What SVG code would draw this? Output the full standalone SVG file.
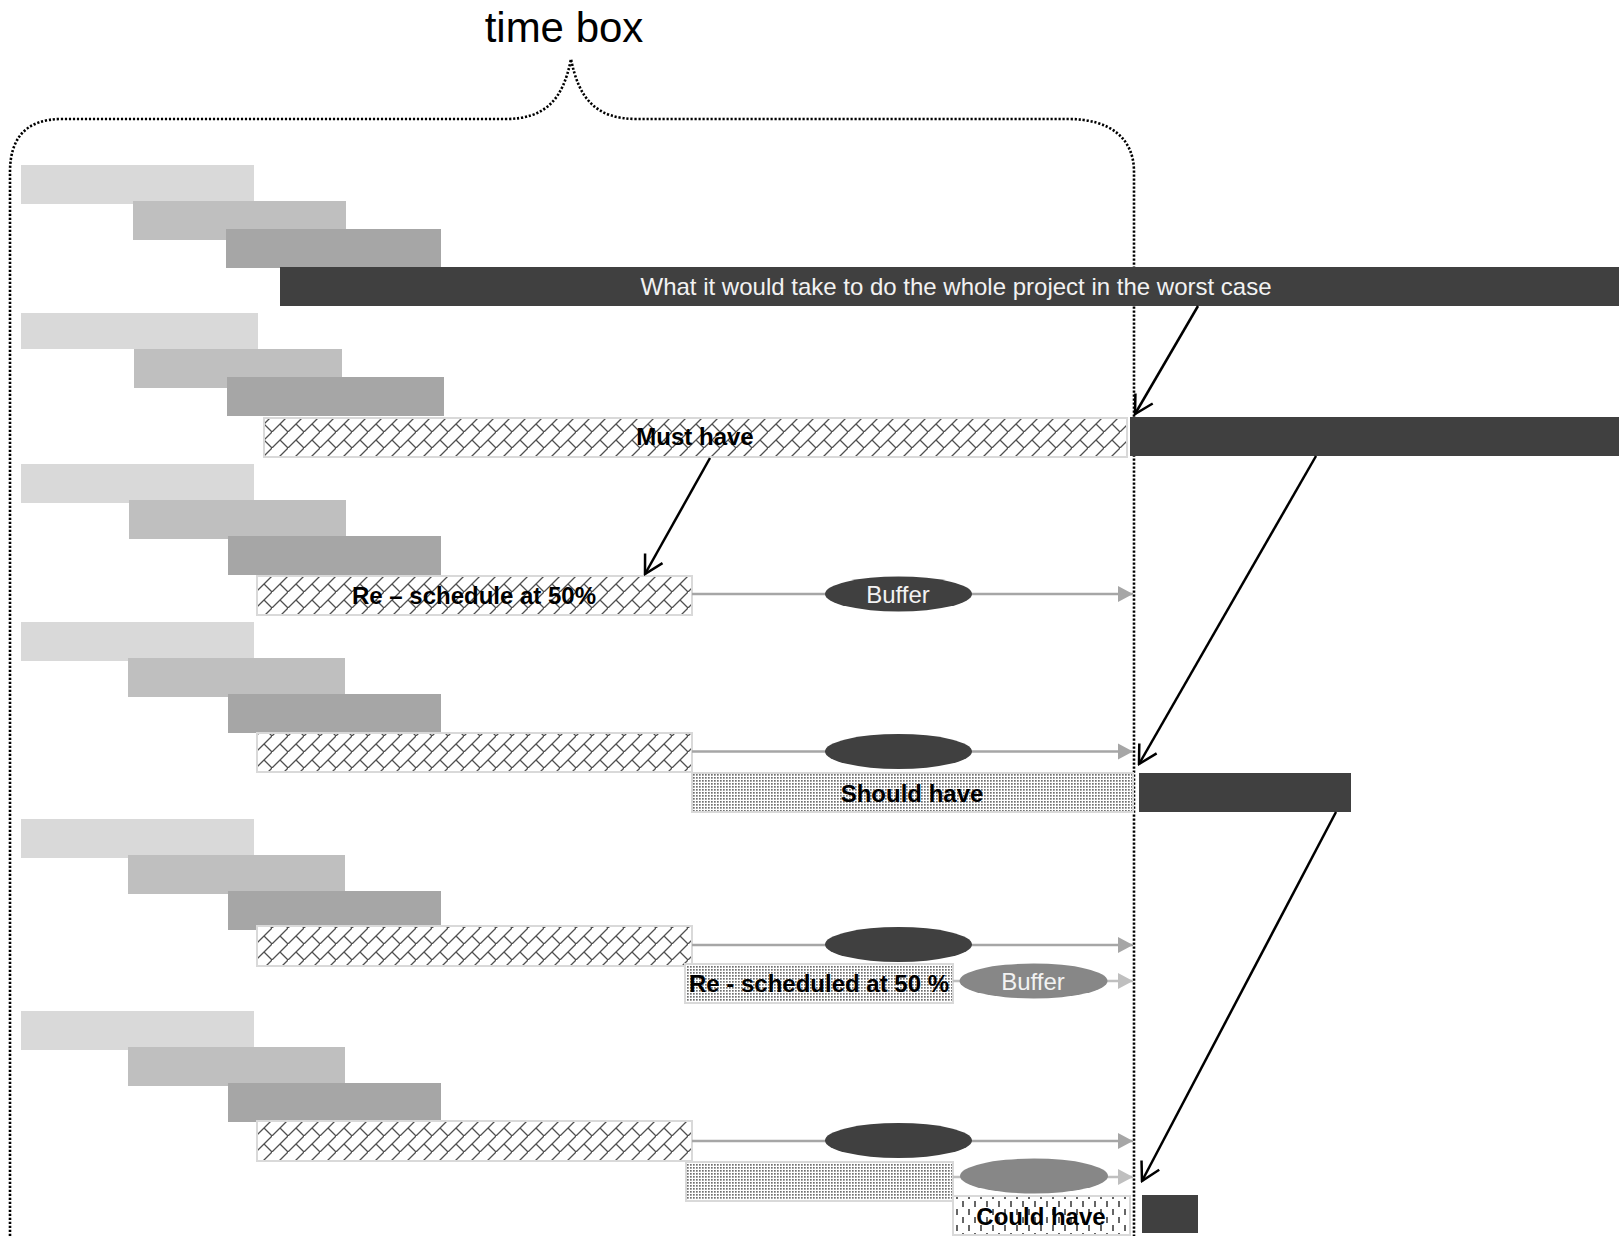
<svg xmlns="http://www.w3.org/2000/svg" width="1619" height="1236" viewBox="0 0 1619 1236">
  <style>
    .a { fill: #d9d9d9; }
    .b { fill: #bfbfbf; }
    .c { fill: #a6a6a6; }
    .dark { fill: #404040; }
    .brick { fill: url(#brick); stroke: #d9d9d9; stroke-width: 2; }
    .dots { fill: url(#dots); stroke: #d9d9d9; stroke-width: 2; }
    .dash { fill: url(#vdash); stroke: #d9d9d9; stroke-width: 2; }
    .lbl { font-family: "Liberation Sans", Arial, sans-serif; font-size: 24px; font-weight: bold; fill: #000; text-anchor: middle; }
    .wt { font-family: "Liberation Sans", Arial, sans-serif; font-size: 24px; fill: #f2f2f2; text-anchor: middle; }
    .ell { fill: #404040; }
    .ell2 { fill: #878787; }
    .flow { stroke: #a6a6a6; stroke-width: 2.5; fill: none; marker-end: url(#tri); }
    .flow2 { stroke: #bfbfbf; stroke-width: 2.5; fill: none; marker-end: url(#tri2); }
    .move { stroke: #000; stroke-width: 2.5; fill: none; marker-end: url(#vee); }
    .brace { fill: none; stroke: #000; stroke-width: 2.6; stroke-dasharray: 2.2 1.8; }
  </style>
  <defs>
    <pattern id="brick" width="16" height="16" patternUnits="userSpaceOnUse">
      <rect width="16" height="16" fill="#fff"/>
      <path d="M0,16 L16,0 M8,8 L16,16" stroke="#505050" stroke-width="1.3" fill="none"/>
    </pattern>
    <pattern id="dots" width="3" height="3" patternUnits="userSpaceOnUse">
      <rect width="3" height="3" fill="#fff"/>
      <rect width="1.7" height="1.7" fill="#707070"/>
    </pattern>
    <pattern id="vdash" width="12" height="16" patternUnits="userSpaceOnUse">
      <rect width="12" height="16" fill="#fff"/>
      <path d="M3,1 V7 M9,9 V15" stroke="#404040" stroke-width="1.6"/>
    </pattern>
    <marker id="tri" viewBox="-16 -9 17 18" refX="0" refY="0" markerWidth="17" markerHeight="18" markerUnits="userSpaceOnUse" orient="auto">
      <path d="M0,0 L-15,-8 L-15,8 z" fill="#a6a6a6"/>
    </marker>
    <marker id="tri2" viewBox="-16 -9 17 18" refX="0" refY="0" markerWidth="17" markerHeight="18" markerUnits="userSpaceOnUse" orient="auto">
      <path d="M0,0 L-15,-8 L-15,8 z" fill="#bfbfbf"/>
    </marker>
    <marker id="vee" viewBox="-22 -13 24 26" refX="0" refY="0" markerWidth="24" markerHeight="26" markerUnits="userSpaceOnUse" orient="auto">
      <path d="M-18,-10 L0,0 L-18,10" fill="none" stroke="#000" stroke-width="2.5"/>
    </marker>
  </defs>

  <rect width="1619" height="1236" fill="#fff"/>

  <!-- time box brace -->
  <g id="timebox">
    <path class="brace" d="M10,1236 L10,172 C10,138 26,119 62,119 L505,119 C545,119 563,100 571,59 C579,100 597,119 637,119 L1068,119 C1110,119 1134,138 1134,172 L1134,1236"/>
    <text x="564" y="42" font-family="'Liberation Sans', Arial, sans-serif" font-size="42" text-anchor="middle" fill="#000">time box</text>
  </g>

  <!-- row 1: worst case -->
  <g id="row1">
    <rect class="a" x="21" y="165" width="233" height="39"/>
    <rect class="b" x="133" y="201" width="213" height="39"/>
    <rect class="c" x="226" y="229" width="215" height="39"/>
    <rect class="dark" x="280" y="267" width="1339" height="39"/>
    <text class="wt" x="956" y="295">What it would take to do the whole project in the worst case</text>
  </g>

  <!-- row 2: must have -->
  <g id="row2">
    <rect class="a" x="21" y="313" width="237" height="36"/>
    <rect class="b" x="134" y="349" width="208" height="39"/>
    <rect class="c" x="227" y="377" width="217" height="39"/>
    <rect class="brick" x="264" y="418" width="863" height="39"/>
    <text class="lbl" x="695" y="445">Must have</text>
    <rect class="dark" x="1130" y="417" width="489" height="39"/>
  </g>

  <!-- row 3: rescheduled with buffer -->
  <g id="row3">
    <rect class="a" x="21" y="464" width="233" height="39"/>
    <rect class="b" x="129" y="500" width="217" height="39"/>
    <rect class="c" x="228" y="536" width="213" height="39"/>
    <rect class="brick" x="257" y="576" width="435" height="39"/>
    <text class="lbl" x="474" y="604">Re – schedule at 50%</text>
    <path class="flow" d="M692,594 H1133"/>
    <ellipse class="ell" cx="898.5" cy="594" rx="73.5" ry="17.5"/>
    <text class="wt" x="898" y="603">Buffer</text>
  </g>

  <!-- row 4: should have -->
  <g id="row4">
    <rect class="a" x="21" y="622" width="233" height="39"/>
    <rect class="b" x="128" y="658" width="217" height="39"/>
    <rect class="c" x="228" y="694" width="213" height="39"/>
    <rect class="brick" x="257" y="733" width="435" height="39"/>
    <path class="flow" d="M692,751.5 H1133"/>
    <ellipse class="ell" cx="898.5" cy="751.5" rx="73.5" ry="17.5"/>
    <rect class="dots" x="692" y="773" width="441" height="39"/>
    <text class="lbl" x="912" y="802">Should have</text>
    <rect class="dark" x="1139" y="773" width="212" height="39"/>
  </g>

  <!-- row 5: should have rescheduled -->
  <g id="row5">
    <rect class="a" x="21" y="819" width="233" height="39"/>
    <rect class="b" x="128" y="855" width="217" height="39"/>
    <rect class="c" x="228" y="891" width="213" height="39"/>
    <rect class="brick" x="257" y="926" width="435" height="40"/>
    <path class="flow" d="M692,945 H1133"/>
    <ellipse class="ell" cx="898.5" cy="944.5" rx="73.5" ry="17.5"/>
    <rect class="dots" x="685" y="964" width="268" height="39"/>
    <text class="lbl" x="819" y="992">Re - scheduled at 50 %</text>
    <path class="flow2" d="M953,981 H1133"/>
    <ellipse class="ell2" cx="1033.5" cy="981" rx="74" ry="17.5"/>
    <text class="wt" x="1033" y="990">Buffer</text>
  </g>

  <!-- row 6: could have -->
  <g id="row6">
    <rect class="a" x="21" y="1011" width="233" height="39"/>
    <rect class="b" x="128" y="1047" width="217" height="39"/>
    <rect class="c" x="228" y="1083" width="213" height="39"/>
    <rect class="brick" x="257" y="1121" width="435" height="40"/>
    <path class="flow" d="M692,1141 H1133"/>
    <ellipse class="ell" cx="898.5" cy="1140.5" rx="73.5" ry="17.5"/>
    <rect class="dots" x="686" y="1162" width="267" height="39"/>
    <path class="flow2" d="M953,1177 H1133"/>
    <ellipse class="ell2" cx="1034" cy="1176" rx="74" ry="17.5"/>
    <rect class="dash" x="953" y="1196" width="177" height="39"/>
    <text class="lbl" x="1041" y="1225">Could have</text>
    <rect class="dark" x="1142" y="1195" width="56" height="38"/>
  </g>

  <!-- carry-over arrows -->
  <g id="connectors">
    <path class="move" d="M1198,306 L1135,414"/>
    <path class="move" d="M710,458 L645,574"/>
    <path class="move" d="M1316,456 L1139,764"/>
    <path class="move" d="M1336,812 L1142,1181"/>
  </g>
</svg>
